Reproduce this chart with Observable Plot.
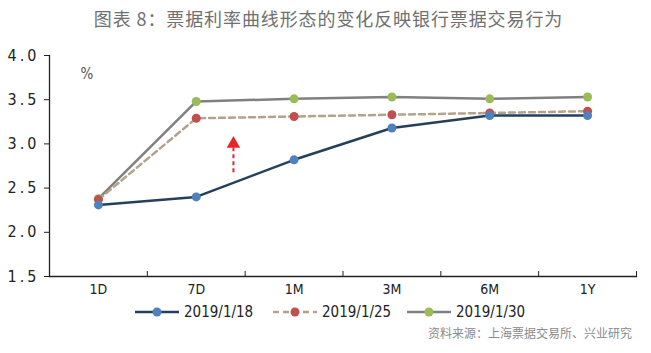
<!DOCTYPE html>
<html><head><meta charset="utf-8">
<script src="https://cdn.jsdelivr.net/npm/d3@7"></script>
<script src="https://cdn.jsdelivr.net/npm/@observablehq/plot@0.6"></script>
<style>
body{margin:0;background:#fff;width:651px;height:353px;overflow:hidden;font-family:"Noto Sans CJK SC",sans-serif;}
#title{height:40px;line-height:36px;text-align:center;font-size:18px;letter-spacing:0.9px;color:#707070;padding-left:6px;box-sizing:border-box;}
#chart{height:258px;}
#legend{position:absolute;top:300px;left:0;width:651px;height:24px;}
#source{position:absolute;top:324px;right:19px;font-size:12px;color:#8a8a8a;}
.item{position:absolute;top:0;height:24px;display:flex;align-items:center;font-family:"DejaVu Sans Condensed","Liberation Sans Narrow",sans-serif;font-size:15px;color:#222;}
</style></head>
<body>
<div id="title">图表 8：票据利率曲线形态的变化反映银行票据交易行为</div>
<div id="chart"></div>
<div id="legend"></div>
<div id="source">资料来源：上海票据交易所、兴业研究</div>
<script>
const tenors = ["1D","7D","1M","3M","6M","1Y"];
const seriesNames = ["2019/1/18","2019/1/25","2019/1/30"];
const s0118 = [2.31, 2.40, 2.82, 3.18, 3.32, 3.32];
const s0125 = [2.37, 3.29, 3.31, 3.33, 3.35, 3.37];
const s0130 = [2.38, 3.48, 3.51, 3.53, 3.51, 3.53];
const yTicks = [1.5, 2.0, 2.5, 3.0, 3.5, 4.0];
const arrowData = [{x: 1.88, y1: 2.68, y2: 2.96, yh: 3.0}];

const lineColors = ["#253f5c", "#b3a28c", "#808080"];
const dotColors = ["#4f81bd", "#c0504d", "#9bbb59"];
const dashes = [null, "6,4", null];

const allSeries = [s0118, s0125, s0130];
const rows = [];
allSeries.forEach((vals, si) => vals.forEach((v, i) => rows.push({series: seriesNames[si], si, x: i + 0.5, tenor: tenors[i], value: v})));

const marks = [];
[2, 1, 0].forEach(si => {
  marks.push(Plot.line(rows.filter(d => d.si === si), {x: "x", y: "value", stroke: lineColors[si], strokeWidth: 2.5, strokeDasharray: dashes[si] || undefined}));
});
[2, 1, 0].forEach(si => {
  marks.push(Plot.dot(rows.filter(d => d.si === si), {x: "x", y: "value", r: 4.5, fill: dotColors[si], stroke: "none"}));
});
marks.push(Plot.link(arrowData, {x1: "x", x2: "x", y1: "y1", y2: "y2", stroke: "#e8242b", strokeWidth: 2, strokeDasharray: "4,3"}));
marks.push(Plot.dot(arrowData, {x: "x", y: "yh", symbol: "triangle", r: 5, fill: "#e8242b", stroke: "none"}));
marks.push(Plot.frame({anchor: "bottom", stroke: "#222", strokeWidth: 1.3}));
marks.push(Plot.frame({anchor: "left", stroke: "#222", strokeWidth: 1.3}));
marks.push(Plot.axisY({ticks: yTicks, tickFormat: d => d.toFixed(1), tickSize: 5, tickPadding: 5, stroke: "#222", fill: "#222", fontSize: 16, label: null}));
marks.push(Plot.axisX({ticks: d3.range(0, 7), tickFormat: () => "", tickSize: 5, dy: -5, stroke: "#222", label: null}));
marks.push(Plot.axisX({ticks: tenors.map((t, i) => i + 0.5), tickFormat: d => tenors[Math.floor(d)], tickSize: 0, tickPadding: 8, fill: "#222", fontSize: 14, label: null}));
marks.push(Plot.text(["%"], {frameAnchor: "top-left", dx: 31, dy: 13, text: d => d, fontSize: 15, fill: "#555"}));

const chart = Plot.plot({
  width: 651, height: 258,
  marginTop: 15, marginBottom: 22, marginLeft: 49, marginRight: 15,
  x: {type: "linear", domain: [0, 6]},
  y: {domain: [1.5, 4.0]},
  style: {fontFamily: "DejaVu Sans Condensed, Liberation Sans Narrow, sans-serif", background: "#fff"},
  marks
});
chart.querySelectorAll('[aria-label="y-axis tick label"] text').forEach(t => t.setAttribute("letter-spacing", "3"));
document.getElementById("chart").appendChild(chart);

const legendPos = [135, 273, 407];
const legend = document.getElementById("legend");
seriesNames.forEach((name, si) => {
  const div = document.createElement("div");
  div.className = "item";
  div.style.left = legendPos[si] + "px";
  div.innerHTML = `<svg width="46" height="14" style="margin-right:3px"><line x1="0" x2="44" y1="7" y2="7" stroke="${lineColors[si]}" stroke-width="2.5" ${dashes[si] ? `stroke-dasharray="${dashes[si]}"` : ""}/><circle cx="22" cy="7" r="4.5" fill="${dotColors[si]}"/></svg><span>${name}</span>`;
  legend.appendChild(div);
});
</script>
</body></html>
